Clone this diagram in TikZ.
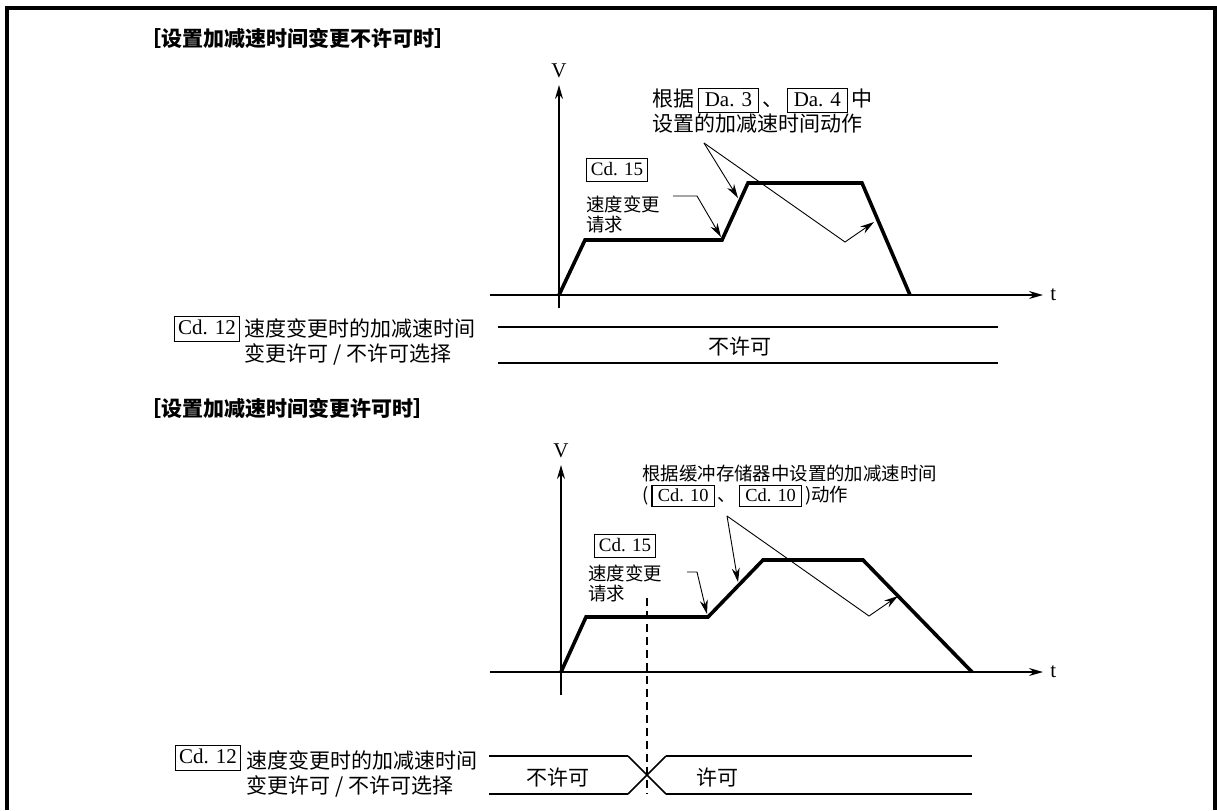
\documentclass[tikz,border=0pt]{standalone}
\usepackage{fontspec}
\setmainfont{Liberation Serif}
\newfontfamily\cjk{Noto Sans CJK SC}
\usetikzlibrary{positioning,arrows.meta}

% boxed parameter names inside text
\newcommand{\prm}[1]{\hspace{0.15em}{\setlength{\fboxsep}{0.12em}\setlength{\fboxrule}{0.6pt}\fbox{\rmfamily\rule[-0.15em]{0pt}{0.85em}\,#1\,}}\hspace{0.15em}}

\tikzset{
  txt/.style={font=\cjk\fontsize{10.5}{12.5}\selectfont,inner sep=0pt,align=left},
  small/.style={font=\cjk\fontsize{9.2}{10}\selectfont,inner sep=0pt,align=left},
  head/.style={font=\cjk\bfseries\fontsize{10.5}{12}\selectfont,inner sep=0pt,anchor=west},
  prmbox/.style={draw,line width=0.6pt,inner xsep=2pt,inner ysep=1.5pt,text height=7pt,text depth=1.5pt,font=\fontsize{9.5}{11}\selectfont},
  axlbl/.style={font=\fontsize{10.5}{12}\selectfont},
  profile/.style={line width=1.8pt},
  axis/.style={line width=0.7pt},
  note/.style={line width=0.45pt},
  sig/.style={line width=1.4pt}
}

\begin{document}
\begin{tikzpicture}[>={Stealth[length=7pt,width=4pt]},x=0.5pt,y=-0.5pt]
	\useasboundingbox (0,0) rectangle (1217,810);
	\draw[line width=2pt] (7,810) -- (7,8) -- (1215,8) -- (1215,810);
	% not permitted
	\node[head] (head1) at (140,38) {［设置加减速时间变更不许可时］};
	\draw[axis,->] (490,295) -- (1043,295) node[axlbl,right] (t1) {t};
	\draw[axis,->] (559,308) -- (559,85) node[axlbl,above] (v1) {V};
	\draw[profile] (559,295) -- (585,240) -- (722,240) -- (748,183) -- (862,183) -- (910,295);
	\node[prmbox] (cd15a) at (617,170) {Cd. 15};
	\node[small,anchor=base west] (req1) at (586,231) {速度变更\\请求};
	\draw[note,->] (673,196) -- (697,196) -- (721,237);
	\node[txt,anchor=base west] (note1a) at (652,106) {根据\prm{Da. 3}、\prm{Da. 4}中};
	\node[txt,anchor=base west] (note1b) at (652,131) {设置的加减速时间动作};
	\coordinate (fork1) at (704,143);
	\draw[note,->] (fork1) -- (738,198);
	\draw[note,->] (fork1) -- (845,242) -- (874,222);
	\draw[sig] (498,327) -- (998,327) (498,363) -- (998,363);
	\node[txt] (off1) at (740,347) {不许可};
	\node[prmbox,font=\fontsize{10.5}{12}\selectfont,text height=7.5pt,text depth=2pt] (cd12a) at (207,329) {Cd. 12};
	\node[txt,anchor=base west] (sel1) at (244,361) {速度变更时的加减速时间\\变更许可 / 不许可选择};
	% permitted
	\node[head] (head2) at (140,408) {［设置加减速时间变更许可时］};
	\draw[axis,->] (490,672) -- (1043,672) node[axlbl,right] (t2) {t};
	\draw[axis,->] (561,695) -- (561,465) node[axlbl,above] (v2) {V};
	\draw[profile] (561,672) -- (586,617) -- (708,617) -- (763,560) -- (863,560) -- (972,672);
	\draw[line width=0.6pt,dash pattern=on 4pt off 2.5pt] (647,598) -- (647,794);
	\node[prmbox] (cd15b) at (625,546) {Cd. 15};
	\node[small,anchor=base west] (req2) at (588,600) {速度变更\\请求};
	\draw[note,->] (687,572) -- (697,572) -- (707,614);
	\node[small,anchor=base west] (note2a) at (642,480) {根据缓冲存储器中设置的加减速时间};
	\node[small,anchor=base west] (note2b) at (642,501) {(\prm{Cd. 10}、\prm{Cd. 10})动作};
	\coordinate (fork2) at (727,516);
	\draw[note,->] (fork2) -- (738,582);
	\draw[note,->] (fork2) -- (869,616) -- (898,596);
	\draw[sig] (489,756) -- (628,756) (489,794) -- (628,794) (666,756) -- (972,756) (666,794) -- (972,794);
	\draw[line width=0.8pt] (628,756) -- (666,794) (628,794) -- (666,756);
	\node[txt] (off2) at (558,777) {不许可};
	\node[txt] (on2) at (717,777) {许可};
	\node[prmbox,font=\fontsize{10.5}{12}\selectfont,text height=7.5pt,text depth=2pt] (cd12b) at (208,758) {Cd. 12};
	\node[txt,anchor=base west] (sel2) at (246,793) {速度变更时的加减速时间\\变更许可 / 不许可选择};
\end{tikzpicture}
\end{document}
